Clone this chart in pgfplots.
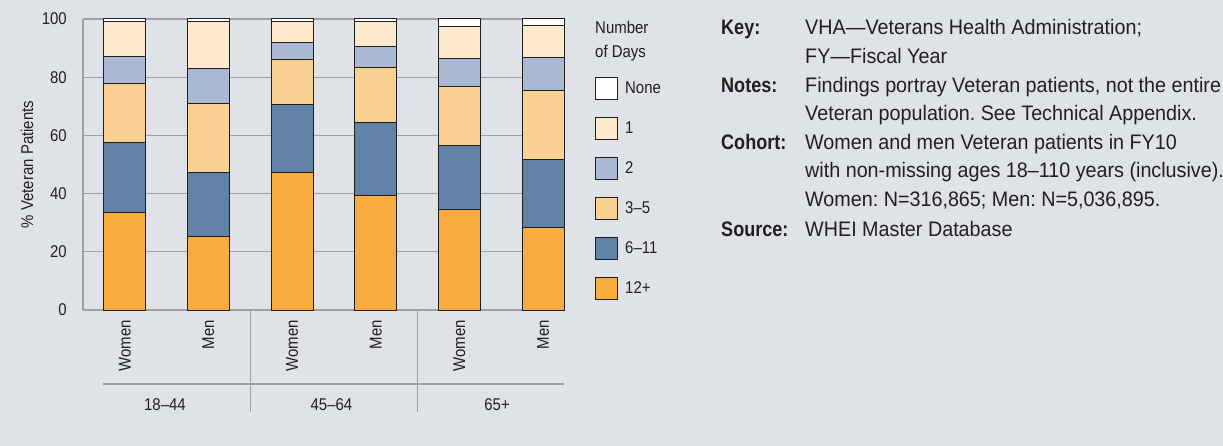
\documentclass[border=0pt]{standalone}
\usepackage{fontspec}
\setmainfont{Liberation Sans}[FakeStretch=0.88]
\newfontfamily\notefont{Liberation Sans}[FakeStretch=0.94, BoldFeatures={FakeStretch=0.86}]
\usepackage{pgfplots}
\pgfplotsset{compat=1.18}
\frenchspacing

\definecolor{bg}{RGB}{223,226,231}
\definecolor{gridgray}{RGB}{160,160,160}
\definecolor{cTwelve}{RGB}{248,172,64}
\definecolor{cSix}{RGB}{99,130,168}
\definecolor{cThree}{RGB}{251,209,147}
\definecolor{cTwo}{RGB}{170,185,211}
\definecolor{cOne}{RGB}{253,234,204}
\definecolor{barline}{RGB}{30,30,30}
\definecolor{txt}{RGB}{35,31,32}

\newcommand{\chartfont}{\fontsize{17bp}{20bp}\selectfont}
\newcommand{\notesize}{\notefont\fontsize{21bp}{24bp}\selectfont}

\begin{document}
\begin{tikzpicture}[every node/.style={text=txt}]
\path[fill=bg, use as bounding box] (-83bp,-136bp) rectangle (1140bp,310bp);
\begin{axis}[
  scale only axis, width=481bp, height=291bp,
  at={(0,0)}, anchor=south west,
  ybar stacked, bar width=42bp,
  xmin=-0.5, xmax=5.25, ymin=0, ymax=100,
  enlargelimits=false, clip=false,
  axis x line*=bottom, axis y line*=left,
  axis line style={-, draw=gridgray, line width=1.2bp},
  major tick length=0pt,
  ymajorgrids, grid style={gridgray, line width=1.2bp},
  ytick={0,20,...,100},
  xtick={0,...,5},
  xticklabels={Women,Men,Women,Men,Women,Men},
  tick label style={font=\chartfont, inner sep=0pt},
  /pgf/number format/assume math mode=true,
  yticklabel style={xshift=-16bp},
  xticklabel style={yshift=-10bp, rotate=90, anchor=east},
  ylabel={\% Veteran Patients},
  every axis y label/.style={at={(axis description cs:-0.1164,0.5)}, rotate=90, anchor=center, font=\chartfont},
  legend style={at={(1.0644,0.8007)}, anchor=north west, draw=none, fill=none,
    inner sep=0pt, row sep=17bp, column sep=7bp, font=\chartfont,
    nodes={inner sep=0pt, anchor=west}},
  legend cell align=left,
  reverse legend,
  legend image code/.code={\draw[#1, line width=1bp] (0bp,-11bp) rectangle (22bp,11bp);},
  every axis plot/.append style={draw=barline, line width=1bp},
]
% 12+
\addplot[fill=cTwelve] coordinates {(0,33.6) (1,25.2) (2,47.1) (3,39.5) (4,34.7) (5,28.3)};
% 6-11
\addplot[fill=cSix] coordinates {(0,24.0) (1,22.2) (2,23.6) (3,24.8) (4,21.9) (5,23.4)};
% 3-5
\addplot[fill=cThree] coordinates {(0,20.1) (1,23.4) (2,15.3) (3,18.9) (4,20.1) (5,23.9)};
% 2
\addplot[fill=cTwo] coordinates {(0,9.3) (1,12.1) (2,6.0) (3,7.5) (4,9.8) (5,11.3)};
% 1
\addplot[fill=cOne] coordinates {(0,12.0) (1,16.1) (2,7.0) (3,8.3) (4,10.9) (5,11.0)};
% none
\addplot[fill=white] coordinates {(0,1.0) (1,1.0) (2,1.0) (3,1.0) (4,2.6) (5,2.1)};
\legend{12+,6–11,3–5,2,1,None}

% age group separators
\draw[gridgray, line width=1.2bp] (axis cs:1.5,0) -- (axis cs:1.5,-35.05);
\draw[gridgray, line width=1.2bp] (axis cs:3.5,0) -- (axis cs:3.5,-35.05);
\draw[gridgray, line width=1.2bp] (axis cs:-0.26,-25.43) -- (axis cs:5.25,-25.43);
\node[font=\chartfont] at (axis cs:0.48,-32.65) {18–44};
\node[font=\chartfont] at (axis cs:2.47,-32.65) {45–64};
\node[font=\chartfont] at (axis cs:4.45,-32.65) {65+};
\end{axis}

% legend title
\node[anchor=base west, inner sep=0pt, font=\chartfont] at (512bp,276bp) {Number};
\node[anchor=base west, inner sep=0pt, font=\chartfont] at (512bp,252bp) {of Days};

% notes block
\begin{scope}[every node/.style={anchor=base west, inner sep=0pt, text=txt, font=\notesize}]
\node at (638bp,275bp) {\bfseries Key:};
\node at (638bp,217bp) {\bfseries Notes:};
\node at (638bp,160bp) {\bfseries Cohort:};
\node at (638bp,73bp) {\bfseries Source:};
\node at (722bp,275bp) {VHA—Veterans Health Administration;};
\node at (722bp,246bp) {FY—Fiscal Year};
\node at (722bp,217bp) {Findings portray Veteran patients, not the entire};
\node at (722bp,189bp) {Veteran population. See Technical Appendix.};
\node at (722bp,160bp) {Women and men Veteran patients in FY10};
\node at (722bp,132bp) {with non-missing ages 18–110 years (inclusive).};
\node at (722bp,103bp) {Women: N=316,865; Men: N=5,036,895.};
\node at (722bp,73bp) {WHEI Master Database};
\end{scope}
\end{tikzpicture}
\end{document}
